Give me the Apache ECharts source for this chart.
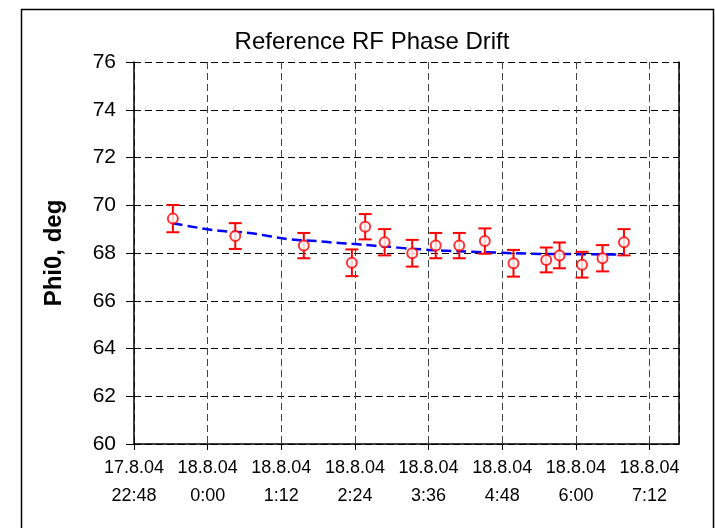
<!DOCTYPE html>
<html>
<head>
<meta charset="utf-8">
<script src="https://cdn.jsdelivr.net/npm/echarts@6/dist/echarts.min.js"></script>
<style>
  html, body { margin: 0; padding: 0; background: #fff; }
  #chart { width: 715px; height: 528px; }
</style>
</head>
<body>
<div id="chart"></div>
<script>
// Measurement times (day.month.year hh:mm)
var times = [
  '17.8.04 23:26', '18.8.04 0:27', '18.8.04 1:34', '18.8.04 2:21',
  '18.8.04 2:34', '18.8.04 2:53', '18.8.04 3:20', '18.8.04 3:43',
  '18.8.04 4:06', '18.8.04 4:31', '18.8.04 4:59', '18.8.04 5:31',
  '18.8.04 5:44', '18.8.04 6:06', '18.8.04 6:26', '18.8.04 6:47'
];
// Measured phase, deg
var phi = [69.44, 68.71, 68.31, 67.59, 69.10, 68.45, 67.99, 68.31,
           68.31, 68.50, 67.57, 67.71, 67.90, 67.51, 67.78, 68.45];
// Measurement uncertainty, deg
var phiErr = [0.57, 0.54, 0.53, 0.56, 0.53, 0.55, 0.56, 0.53,
              0.53, 0.53, 0.56, 0.52, 0.54, 0.54, 0.55, 0.55];
// Drift fit evaluated at the measurement times, deg
var phiFit = [69.25, 68.88, 68.53, 68.39, 68.34, 68.27, 68.18, 68.11,
              68.07, 68.03, 67.99, 67.96, 67.96, 67.95, 67.94, 67.94];

// X axis in minutes relative to 18.8.04 0:00
var xMin = -72, xStep = 72, xMax = 460.8;
var yMin = 60, yMax = 76, yStep = 2;

function toMinutes(s) {
  var parts = s.split(' ');
  var day = parseInt(parts[0].split('.')[0], 10);
  var hm = parts[1].split(':');
  return (day - 18) * 1440 + parseInt(hm[0], 10) * 60 + parseInt(hm[1], 10);
}
function fmtTick(v) {
  var day = v < 0 ? '17.8.04' : '18.8.04';
  var m = Math.round(((v % 1440) + 1440) % 1440);
  var h = Math.floor(m / 60), mm = m % 60;
  return day + '\n' + h + ':' + (mm < 10 ? '0' : '') + mm;
}

var xs = times.map(toMinutes);
var pts = xs.map(function (x, i) { return [x, phi[i]]; });
var bars = xs.map(function (x, i) { return [x, phi[i] - phiErr[i], phi[i] + phiErr[i]]; });
var fit = xs.map(function (x, i) { return [x, phiFit[i]]; });

var FONT = '"Liberation Sans", Arial, sans-serif';
var chart = echarts.init(document.getElementById('chart'), null, { renderer: 'canvas' });

chart.setOption({
  backgroundColor: '#fff',
  animation: false,
  title: {
    text: 'Reference RF Phase Drift',
    left: 367, top: 25, textAlign: 'center',
    textStyle: { fontFamily: FONT, fontSize: 24, fontWeight: 'normal', color: '#000' }
  },
  graphic: [{
    type: 'rect', left: 19, top: 7, z: -10,
    shape: { width: 692, height: 540 },
    style: { fill: 'none', stroke: '#000', lineWidth: 1.5 }
  }],
  grid: { left: 134, right: 36, top: 62, bottom: 84 },
  xAxis: {
    type: 'value', min: xMin, max: xMax, interval: xStep,
    axisLine: { show: true, onZero: false, lineStyle: { color: '#000', width: 1.5 } },
    axisTick: { show: true, inside: false, length: 6, lineStyle: { color: '#000' } },
    axisLabel: {
      formatter: fmtTick, color: '#000', fontFamily: FONT, fontSize: 18,
      lineHeight: 28, margin: 10, showMaxLabel: false
    },
    splitLine: { show: true, lineStyle: { color: '#444', width: 1, type: [7, 4] } }
  },
  yAxis: [{
    type: 'value', min: yMin, max: yMax, interval: yStep,
    name: 'Phi0, deg', nameLocation: 'middle', nameGap: 68,
    nameTextStyle: { fontFamily: FONT, fontSize: 24, fontWeight: 'bold', color: '#000' },
    axisLine: { show: true, onZero: false, lineStyle: { color: '#000', width: 1.5 } },
    axisTick: { show: true, inside: false, length: 8, lineStyle: { color: '#000' } },
    axisLabel: { color: '#000', fontFamily: FONT, fontSize: 21, margin: 18 },
    splitLine: { show: true, lineStyle: { color: '#000', width: 1, type: [7, 4] } }
  }, {
    type: 'value', min: yMin, max: yMax, interval: yStep, position: 'right',
    axisLine: { show: true, onZero: false, lineStyle: { color: '#000', width: 1.5 } },
    axisTick: { show: false }, axisLabel: { show: false }, splitLine: { show: false }
  }],
  series: [{
    type: 'line', data: fit, smooth: 0.3, smoothMonotone: 'x', symbol: 'none', z: 3,
    lineStyle: { color: '#0000ff', width: 2.5, type: [10, 5] }
  }, {
    type: 'custom', data: bars, z: 4,
    renderItem: function (params, api) {
      var top = api.coord([api.value(0), api.value(2)]);
      var bot = api.coord([api.value(0), api.value(1)]);
      var w = 6.5;
      var st = { stroke: '#ff0000', lineWidth: 2 };
      return {
        type: 'group',
        children: [
          { type: 'line', shape: { x1: top[0], y1: top[1], x2: bot[0], y2: bot[1] }, style: st },
          { type: 'line', shape: { x1: top[0] - w, y1: top[1], x2: top[0] + w, y2: top[1] }, style: st },
          { type: 'line', shape: { x1: bot[0] - w, y1: bot[1], x2: bot[0] + w, y2: bot[1] }, style: st }
        ]
      };
    }
  }, {
    type: 'scatter', data: pts, z: 5,
    symbol: 'circle', symbolSize: 10,
    itemStyle: { color: '#fff', borderColor: '#ff0000', borderWidth: 2 }
  }]
});
</script>
</body>
</html>
